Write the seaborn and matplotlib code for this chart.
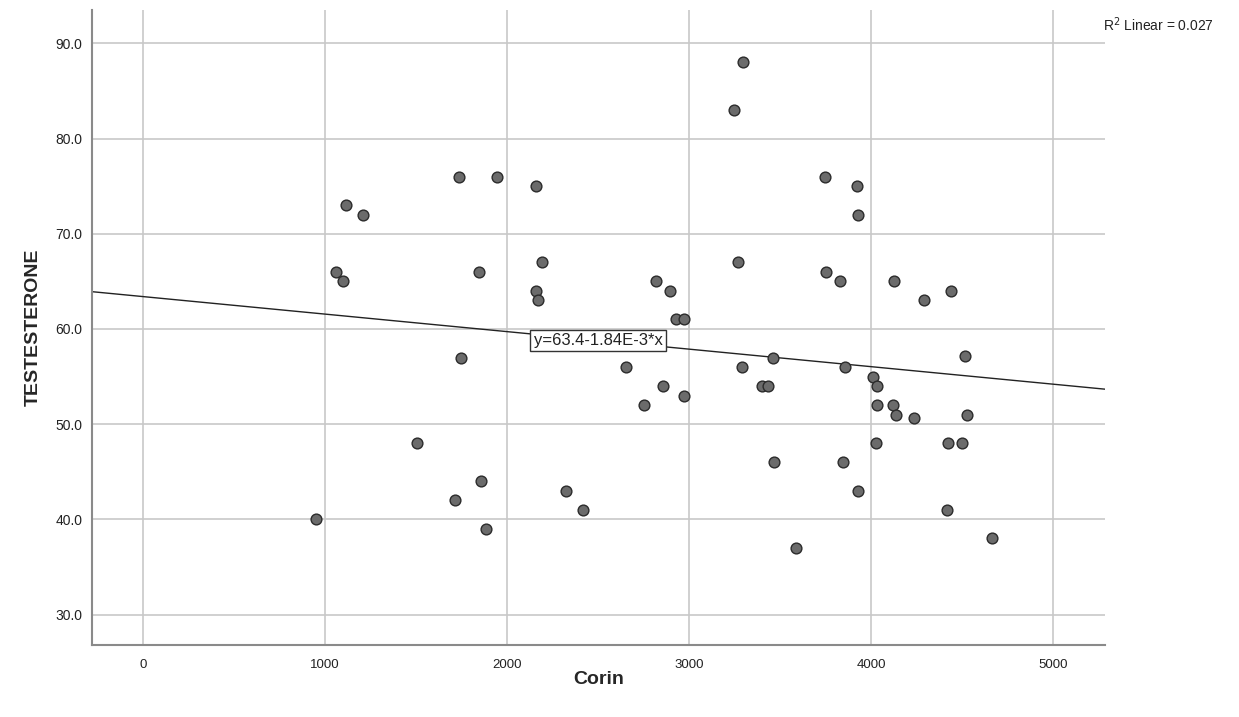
import numpy as np
import pandas as pd
import matplotlib
matplotlib.use("Agg")
import matplotlib.pyplot as plt
import seaborn as sns

# =========================
# DATA
# =========================
corin = [950, 1060, 1099, 1115, 1209, 1505, 1714, 1736, 1747, 1846,
         1857, 1885, 1945, 2159, 2159, 2170, 2192, 2324, 2418, 2654,
         2753, 2819, 2857, 2896, 2929, 2973, 2973, 3247, 3269, 3291,
         3297, 3401, 3434, 3462, 3467, 3588, 3747, 3753, 3830, 3846,
         3857, 3923, 3929, 3929, 4011, 4033, 4033, 4027, 4121, 4126,
         4137, 4236, 4291, 4418, 4423, 4439, 4500, 4516, 4527, 4665]
testosterone = [40, 66, 65, 73, 72, 48, 42, 76, 57, 66,
                44, 39, 76, 75, 64, 63, 67, 43, 41, 56,
                52, 65, 54, 64, 61, 61, 53, 83, 67, 56,
                88, 54, 54, 57, 46, 37, 76, 66, 65, 46,
                56, 75, 72, 43, 55, 54, 52, 48, 52, 65,
                51, 50.6, 63, 41, 48, 64, 48, 57.2, 51, 38]

fit_intercept = 63.4
fit_slope = -1.84e-3
r2_label = "0.027"

x_ticks = [0, 1000, 2000, 3000, 4000, 5000]
y_ticks = [30, 40, 50, 60, 70, 80, 90]

df = pd.DataFrame({"Corin": corin, "TESTESTERONE": testosterone})

# =========================
# STYLE
# =========================
sns.set_style("white")
plt.rcParams["font.family"] = ["Liberation Sans", "DejaVu Sans"]

fig = plt.figure(figsize=(12.39, 7.17), dpi=100)
ax = fig.add_axes([0.0743, 0.1004, 0.8176, 0.8856])

xlim = (-280, 5286)
ylim = (26.8, 93.5)

# fit line
xs = np.array(xlim)
ax.plot(xs, fit_intercept + fit_slope * xs, color="#222222", lw=1.0, zorder=2)

sns.scatterplot(data=df, x="Corin", y="TESTESTERONE", ax=ax,
                color="#6b6b6b", edgecolor="#2b2b2b", linewidth=1.0,
                s=60, zorder=3)

ax.set_xlim(*xlim)
ax.set_ylim(*ylim)
ax.set_xticks(x_ticks)
ax.set_yticks(y_ticks)
ax.set_xticklabels([str(t) for t in x_ticks], fontsize=9.5)
ax.set_yticklabels([f"{t:.1f}" for t in y_ticks], fontsize=10)

ax.grid(True, color="#c8c8c8", linewidth=1.2, zorder=0)
ax.set_axisbelow(True)
for side in ["top", "right"]:
    ax.spines[side].set_visible(False)
for side in ["left", "bottom"]:
    ax.spines[side].set_color("#8a8a8a")
    ax.spines[side].set_linewidth(1.5)
ax.tick_params(axis="x", length=0, pad=10, colors="#222222")
ax.tick_params(axis="y", length=0, pad=7, colors="#222222")

ax.set_xlabel("Corin", fontsize=14, fontweight="bold", labelpad=0)
ax.set_ylabel("TESTESTERONE", fontsize=14, fontweight="bold", labelpad=10)

# equation label on the line
lx = 2500
ax.text(lx, fit_intercept + fit_slope * lx, "y=63.4-1.84E-3*x",
        ha="center", va="center", fontsize=12, color="#222222", zorder=4,
        bbox=dict(boxstyle="square,pad=0.2", fc="white", ec="#333333", lw=1.0))

fig.text(0.935, 0.966, r"R$^2$ Linear = " + r2_label, ha="center", va="center",
         fontsize=10, color="#222222")

fig.savefig("out.png", dpi=100)
